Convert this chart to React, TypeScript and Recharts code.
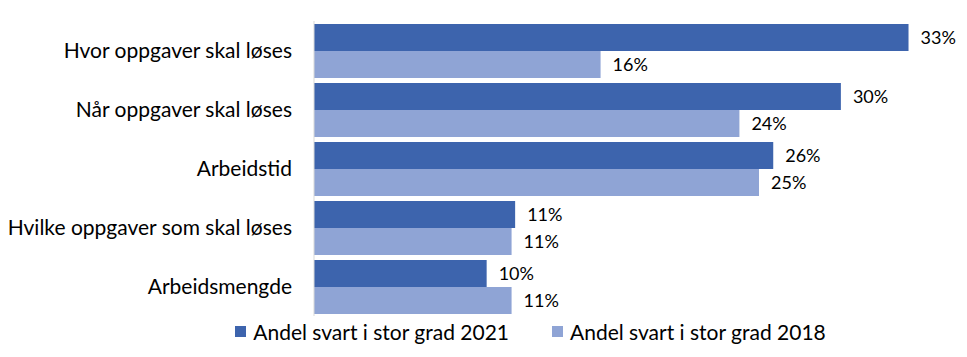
import { Bar, BarChart, LabelList, Legend, XAxis, YAxis } from 'recharts';

const categories = [
    'Hvor oppgaver skal løses',
    'Når oppgaver skal løses',
    'Arbeidstid',
    'Hvilke oppgaver som skal løses',
    'Arbeidsmengde',
];
const share2021 = [33.4, 29.6, 25.8, 11.3, 9.7];
const share2018 = [16.1, 23.9, 25.0, 11.1, 11.1];
const seriesNames = ['Andel svart i stor grad 2021', 'Andel svart i stor grad 2018'];

const data = categories.map((name, i) => ({
    name,
    y2021: share2021[i],
    y2018: share2018[i],
}));

const DARK = '#3D64AD';
const LIGHT = '#8FA4D5';
const FONT = 'Lato, "Open Sans", sans-serif';

const pct = (v: any) => `${Math.round(Number(v))}%`;

const LegendContent = () => (
    <div
        style={{
            display: 'flex',
            justifyContent: 'center',
            gap: 43,
            fontFamily: FONT,
            fontSize: 21,
            color: '#000',
            paddingTop: 3,
            paddingLeft: 124,
        }}
    >
        {[DARK, LIGHT].map((c, i) => (
            <div key={i} style={{ display: 'flex', alignItems: 'center' }}>
                <span
                    style={{
                        width: 11,
                        height: 11,
                        background: c,
                        display: 'inline-block',
                        marginRight: 7,
                    }}
                />
                {seriesNames[i]}
            </div>
        ))}
    </div>
);

export default function App() {
    return (
        <div style={{ position: 'absolute', left: 0, top: 0, background: '#fff' }}>
            <BarChart
                width={967}
                height={357}
                data={data}
                layout="vertical"
                margin={{ top: 21, right: 30, bottom: 5, left: 0 }}
                barCategoryGap={3}
                barGap={0}
            >
                <XAxis type="number" domain={[0, 35]} hide />
                <YAxis
                    type="category"
                    dataKey="name"
                    width={314}
                    tickLine={false}
                    tickSize={0}
                    tickMargin={22}
                    axisLine={{ stroke: '#D9D9D9' }}
                    tick={{ fill: '#000', fontSize: 21, fontFamily: FONT }}
                    interval={0}
                />
                <Legend verticalAlign="bottom" height={36} content={<LegendContent />} />
                <Bar dataKey="y2021" name={seriesNames[0]} fill={DARK} isAnimationActive={false}>
                    <LabelList
                        dataKey="y2021"
                        position="right"
                        offset={12}
                        formatter={pct}
                        style={{ fill: '#000', fontSize: 18, fontFamily: FONT }}
                    />
                </Bar>
                <Bar dataKey="y2018" name={seriesNames[1]} fill={LIGHT} isAnimationActive={false}>
                    <LabelList
                        dataKey="y2018"
                        position="right"
                        offset={12}
                        formatter={pct}
                        style={{ fill: '#000', fontSize: 18, fontFamily: FONT }}
                    />
                </Bar>
            </BarChart>
        </div>
    );
}
